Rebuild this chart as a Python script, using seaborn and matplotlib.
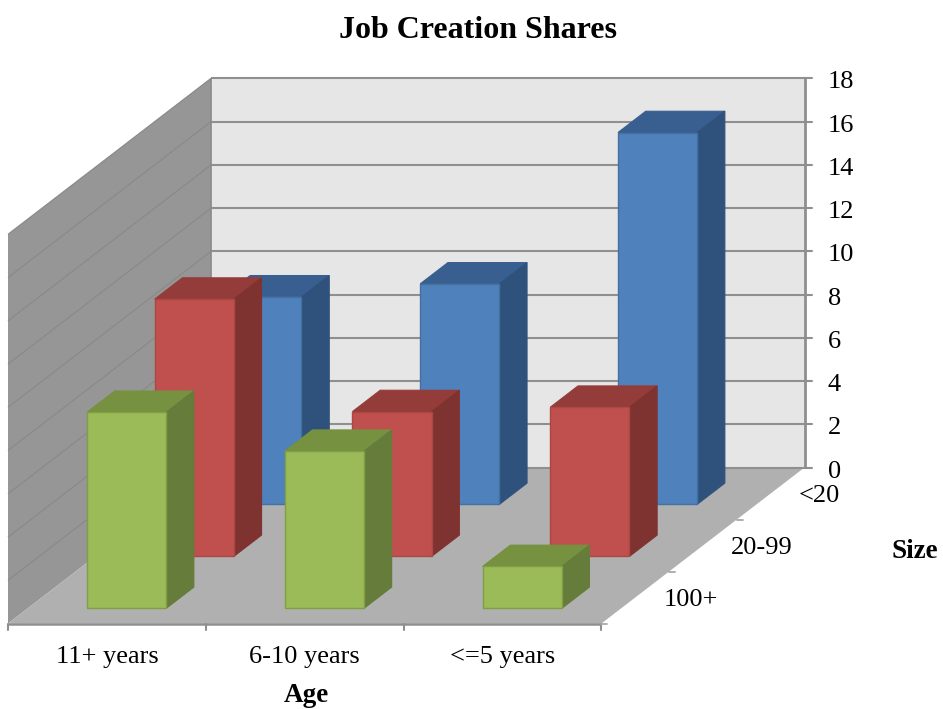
import matplotlib
matplotlib.use("Agg")
import matplotlib.pyplot as plt
import seaborn as sns

ages = ["11+ years", "6-10 years", "<=5 years"]
sizes = ["100+", "20-99", "<20"]
green_100 = [9.07, 7.27, 1.94]
red_20_99 = [11.9, 6.7, 6.9]
blue_lt20 = [9.6, 10.2, 17.2]
value_ticks = list(range(0, 19, 2))

sns.set_theme(style="white")
plt.rcParams["font.family"] = ["Liberation Serif", "DejaVu Serif"]

series = [(2, blue_lt20), (1, red_20_99), (0, green_100)]
palette = {2: ("#4f81bd", "#385f8f", "#2f527c", "#44719f"),
           1: ("#c0504d", "#943c3a", "#7f3331", "#ab4744"),
           0: ("#9bbb59", "#76913f", "#667c3a", "#7f9f45")}

# oblique projection of the chart cube onto figure pixels
ORIGIN = (8.0, 623.5)
CAT = 197.8
DEPTH = (67.7, -52.0)
UNIT = 21.62
GAP_X = 0.30
GAP_D = 0.29
WIDTH = 0.40
BAR_DEPTH = 0.41


def proj(c, d, v):
    return (ORIGIN[0] + c * CAT + d * DEPTH[0],
            ORIGIN[1] + d * DEPTH[1] - v * UNIT)


fig = plt.figure(figsize=(9.43, 7.09), dpi=100)
ax = fig.add_axes([0, 0, 1, 1])
ax.set_xlim(0, 943)
ax.set_ylim(709, 0)
ax.axis("off")


def face(points, color, edge=None, z=1, lw=0.8):
    xs, ys = zip(*[proj(*p) for p in points])
    ax.fill(xs, ys, facecolor=color, edgecolor=edge or color, linewidth=lw, zorder=z)


nc, nd, vmax = len(ages), len(sizes), value_ticks[-1]
GRID = "#8f8f8f"
face([(0, nd, 0), (nc, nd, 0), (nc, nd, vmax), (0, nd, vmax)], "#e6e6e6", lw=0)
face([(0, 0, 0), (0, nd, 0), (0, nd, vmax), (0, 0, vmax)], "#969696", lw=0)
face([(0, 0, 0), (nc, 0, 0), (nc, nd, 0), (0, nd, 0)], "#b0b0b0", lw=0)


def line(a, b, color=GRID, lw=1.5, z=2):
    p, q = proj(*a), proj(*b)
    ax.plot([p[0], q[0]], [p[1], q[1]], color=color, lw=lw, zorder=z, solid_capstyle="butt")


for v in value_ticks:
    line((0, nd, v), (nc, nd, v))
    if v:
        line((0, 0, v), (0, nd, v), color="#8a8a8a", lw=0.9)
    x, y = proj(nc, nd, v)
    ax.plot([x, x + 7], [y, y], color=GRID, lw=1.5, zorder=2)
    ax.text(x + 23, y + 1.5, str(v), fontsize=19, color="black", ha="left", va="center_baseline")
line((nc, nd, 0), (nc, nd, vmax), lw=2)
line((0, nd, 0), (0, nd, vmax), lw=1.2, color="#8a8a8a")
line((0, 0, 0), (nc, 0, 0), lw=1.8)

for c in range(nc + 1):
    x, y = proj(c, 0, 0)
    ax.plot([x, x], [y, y + 6], color=GRID, lw=1.5, zorder=2)
for d in range(nd):
    x, y = proj(nc, d, 0)
    ax.plot([x, x + 6], [y, y], color="#a8a8a8", lw=1.3, zorder=2)

z = 5
for d, values in series:
    front, top, side, rim = palette[d]
    for c, v in enumerate(values):
        c0, c1 = c + GAP_X, c + GAP_X + WIDTH
        d0, d1 = d + GAP_D, d + GAP_D + BAR_DEPTH
        face([(c0, d0, v), (c1, d0, v), (c1, d1, v), (c0, d1, v)], top, z=z)
        face([(c1, d0, 0), (c1, d1, 0), (c1, d1, v), (c1, d0, v)], side, z=z)
        face([(c0, d0, 0), (c1, d0, 0), (c1, d0, v), (c0, d0, v)], front, edge=rim, z=z + 0.5, lw=1.0)
        z += 1

for c, label in enumerate(ages):
    x, y = proj(c + 0.5, 0, 0)
    ax.text(x, y + 33, label, fontsize=19, color="black", ha="center", va="center")
for d, label in enumerate(sizes):
    x, y = proj(nc, d + 0.5, 0)
    ax.text(x + 28, y + 3, label, fontsize=19, color="black", ha="left", va="center")

ax.text(478, 31, "Job Creation Shares", fontsize=23, fontweight="bold", color="black", ha="center", va="center")
ax.text(306, 695, "Age", fontsize=19.5, fontweight="bold", color="black", ha="center", va="center")
ax.text(915, 551, "Size", fontsize=19.5, fontweight="bold", color="black", ha="center", va="center")

fig.savefig("out.png", dpi=100, facecolor="white")
